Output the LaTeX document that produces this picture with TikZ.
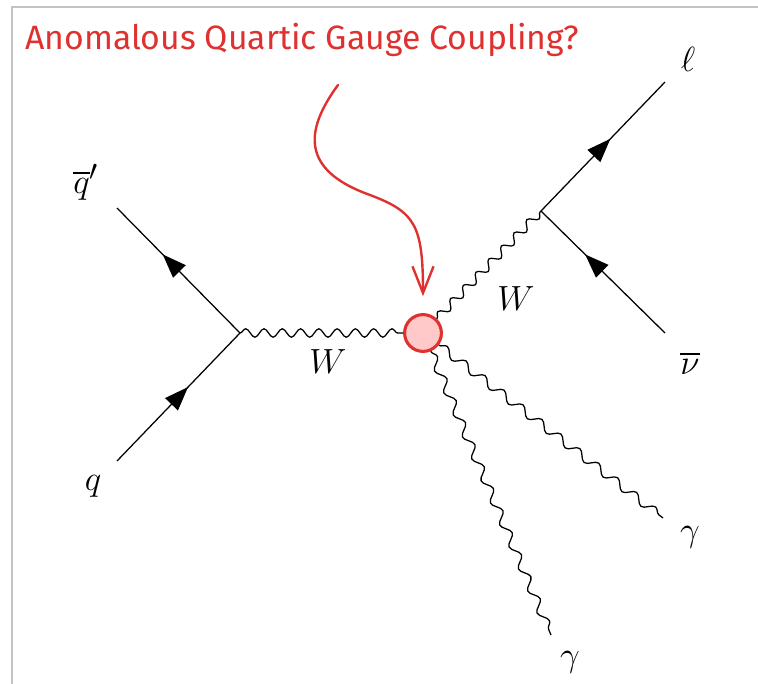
\documentclass[tikz,border=0pt]{standalone}
\usepackage{fontspec}
\newfontfamily\handfont{Fira Sans}
\usetikzlibrary{positioning,arrows.meta,decorations.pathmorphing,decorations.markings}
\usepackage{amsmath}
\usepackage{amssymb}

\definecolor{sketchred}{HTML}{E03131}
\definecolor{blobfill}{HTML}{FFC9C9}
\definecolor{framegray}{HTML}{C4C4C4}

\tikzset{
  fermion/.style={draw,line width=0.9pt,postaction={decorate},
    decoration={markings,mark=at position #1 with {\arrow{Triangle[length=17pt,width=12.5pt]}}}},
  fermion/.default=0.6,
  boson/.style={draw,line width=0.9pt,decorate,
    decoration={snake,amplitude=3pt,segment length=#1}},
  boson/.default=13pt,
  blob/.style={circle,draw=sketchred,fill=blobfill,line width=2.2pt,
    minimum size=0.92cm,inner sep=0pt},
  pointer/.style={sketchred,line width=1.7pt,line cap=round,
    -{Straight Barb[length=19pt,width=15pt,line width=1.7pt]}}
}

\begin{document}
\begin{tikzpicture}[x=0.025cm,y=-0.025cm,font=\Huge]
        \useasboundingbox (0,0) rectangle (758,684);
        \draw[framegray,line width=1pt] (12,684) -- (12,7) -- (758,7);
        % vertices
        \coordinate (vqq) at (240,333);
        \coordinate (vlnu) at (541,211);
        \node[blob] (qgc) at (423,333) {};
        % outer ends
        \coordinate (qbarend) at (117,208);
        \coordinate (qend) at (117,461);
        \coordinate (lend) at (665,82);
        \coordinate (nuend) at (665,333);
        \coordinate (gaend1) at (663,518);
        \coordinate (gaend2) at (551,635);
        \draw[fermion=0.63] (vqq) -- (qbarend);
        \draw[fermion=0.58] (qend) -- (vqq);
        \draw[fermion=0.56] (vlnu) -- (lend);
        \draw[fermion=0.645] (nuend) -- (vlnu);
        \draw[boson] (vqq) -- (qgc);
        \draw[boson] (qgc) -- (vlnu);
        \draw[boson=17pt] (qgc) -- (gaend1);
        \draw[boson=17pt] (qgc) -- (gaend2);
        % labels
        \node (lqbar) at (86,182) {$\overline{q}'$};
        \node (lq) at (93,486) {$q$};
        \node (lW1) at (328,362) {$W$};
        \node (lW2) at (516,299) {$W$};
        \node (ll) at (688,59) {$\ell$};
        \node (lnu) at (690,363) {$\overline{\nu}$};
        \node (lga1) at (690,537) {$\gamma$};
        \node (lga2) at (570,662) {$\gamma$};
        % annotation
        \node[font=\handfont\fontsize{24}{28}\selectfont,text=sketchred,anchor=base west,inner sep=0pt] (title) at (25,50) {Anomalous Quartic Gauge Coupling?};
        \coordinate (pstart) at (338,85);
        \draw[pointer] (pstart) .. controls (305,130) and (300,170) .. (370,195) .. controls (415,212) and (423,225) .. ([yshift=0.42cm]qgc.north);
    \end{tikzpicture}
\end{document}
